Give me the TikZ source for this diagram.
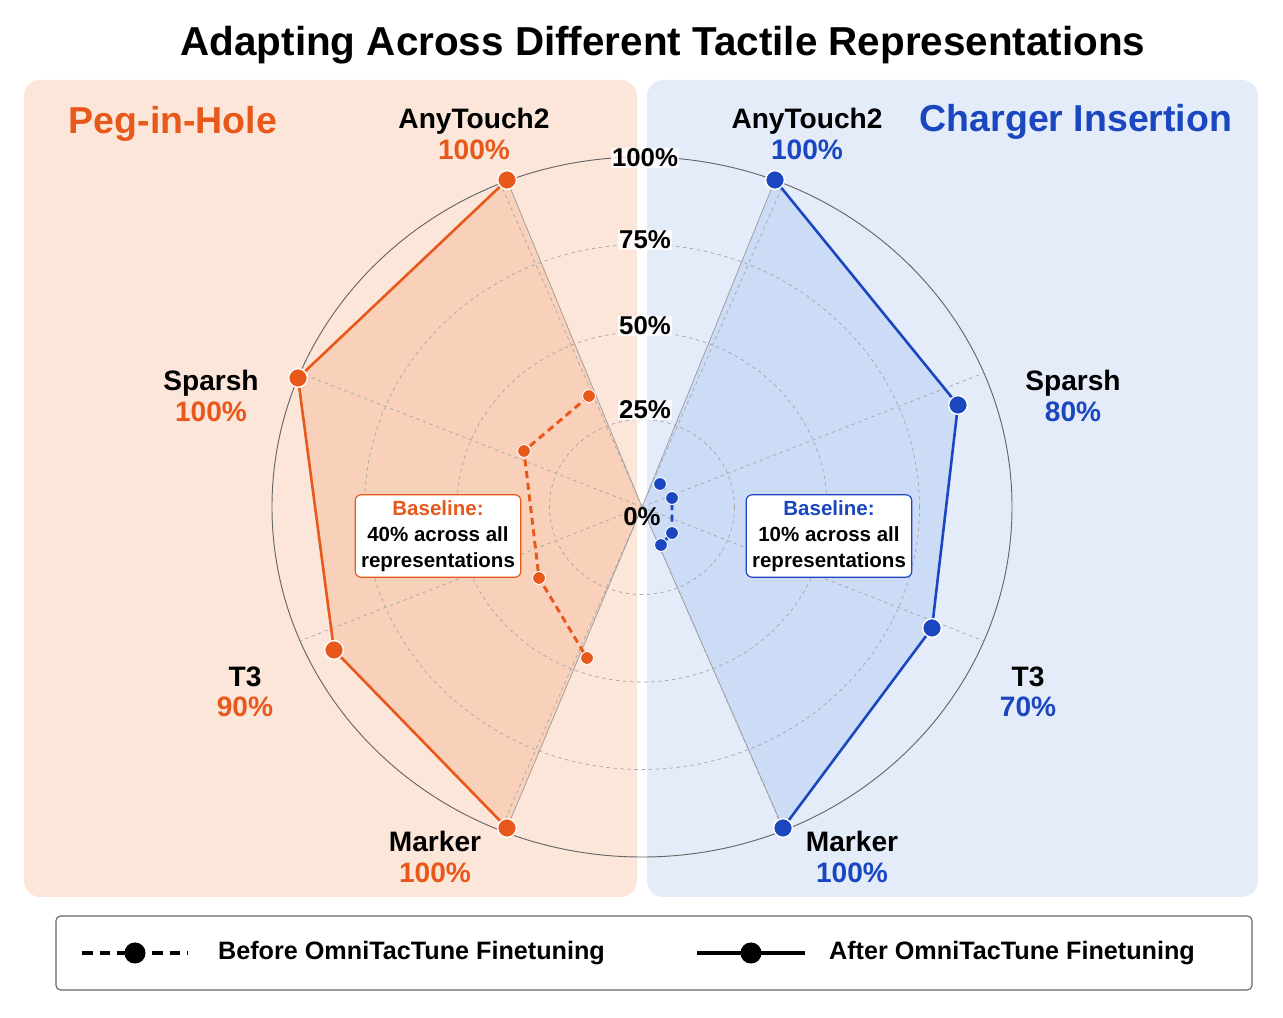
\documentclass[tikz,border=0pt]{standalone}
\usepackage{fontspec}
\setmainfont{Liberation Sans}
\definecolor{pegc}{HTML}{E8581A}
\definecolor{chgc}{HTML}{1A47C0}
\definecolor{pegbg}{HTML}{FCE5D9}
\definecolor{chgbg}{HTML}{E4ECFA}
\definecolor{pegfill}{HTML}{F8C4A6}
\definecolor{chgfill}{HTML}{BCD1F4}
\tikzset{
  panel/.style={rounded corners=14pt},
  ring/.style={draw=gray!70,dashed,line width=0.6pt},
  spoke/.style={draw=gray!70,dashed,line width=0.6pt},
  pct/.style={font=\fontsize{22}{24}\selectfont\bfseries,fill=white,fill opacity=0.8,text opacity=1,inner sep=1pt},
  axlab/.style={font=\fontsize{24}{28}\selectfont\bfseries,align=center,inner sep=0pt},
  dot/.style={circle,fill=#1,draw=white,line width=1.2pt,inner sep=0pt,minimum size=16pt},
  sdot/.style={circle,fill=#1,draw=white,line width=0.8pt,inner sep=0pt,minimum size=11pt},
  basebox/.style={draw=#1,fill=white,rounded corners=5pt,line width=1pt,align=center,
    font=\fontsize{17.5}{22}\selectfont\bfseries,inner sep=5pt}
}
\begin{document}
\begin{tikzpicture}[x=0.03cm,y=0.03cm]
\useasboundingbox[fill=white] (0,0) rectangle (1283,1018);
% panels
\fill[pegbg,panel] (24,121) rectangle (637,938);
\fill[chgbg,panel] (647,121) rectangle (1258,938);
\node[font=\fontsize{34.5}{40}\selectfont\bfseries] (title) at (663,973) {Adapting Across Different Tactile Representations};
\node[font=\fontsize{32}{36}\selectfont\bfseries,text=pegc] (peg) at (173,894) {Peg-in-Hole};
\node[font=\fontsize{32}{36}\selectfont\bfseries,text=chgc] (chg) at (1076,896) {Charger Insertion};

\coordinate (C) at (642,511);
% data points
\foreach \n/\x/\y in {pa/507/838, ps/298/640, pt/334/368, pm/507/190,
  qa/589/622, qs/524/567, qt/539/440, qm/587/360,
  ca/775/838, cs/958/613, ct/932/390, cm/783/190,
  da/660/534, ds/672/520, dt/672/485, dm/661/473}
  \coordinate (\n) at (\x,\y);

% fills
\fill[pegfill,opacity=0.6] (C) -- (pa) -- (ps) -- (pt) -- (pm) -- cycle;
\fill[chgfill,opacity=0.6] (C) -- (ca) -- (cs) -- (ct) -- (cm) -- cycle;
\draw[gray!80,line width=0.6pt] (pa) -- (C) -- (pm) (ca) -- (C) -- (cm);

% grid
\draw[gray!80!black,line width=0.8pt] (C) ellipse [x radius=11.1cm,y radius=10.5cm];
\foreach \r in {0.25,0.5,0.75}
  \draw[ring] (C) ellipse [x radius={\r*11.1cm},y radius={\r*10.5cm}];
\foreach \a in {22.5,67.5,...,337.5}
  \draw[spoke] (C) -- ++(\a:{11.1cm} and {10.5cm});

% series
\draw[pegc,line width=2.2pt] (pa) -- (ps) -- (pt) -- (pm);
\draw[chgc,line width=2.2pt] (ca) -- (cs) -- (ct) -- (cm);
\draw[pegc,line width=2.5pt,dash pattern=on 6pt off 4pt] (qa) -- (qs) -- (qt) -- (qm);
\draw[chgc,line width=2.5pt,dash pattern=on 6pt off 4pt] (da) -- (ds) -- (dt) -- (dm);
\foreach \n in {pa,ps,pt,pm} \node[dot=pegc] (n\n) at (\n) {};
\foreach \n in {ca,cs,ct,cm} \node[dot=chgc] (n\n) at (\n) {};
\foreach \n in {qa,qs,qt,qm} \node[sdot=pegc] (n\n) at (\n) {};
\foreach \n in {da,ds,dt,dm} \node[sdot=chgc] (n\n) at (\n) {};

% ring labels
\node[pct] (r100) at (645,860) {100\%};
\node[pct] (r75) at (645,778) {75\%};
\node[pct] (r50) at (645,692) {50\%};
\node[pct] (r25) at (645,608) {25\%};
\node[pct,fill opacity=0] (r0) at (642,501) {0\%};

% axis labels
\node[axlab] (la) at (474,884) {AnyTouch2\\[-2pt]\textcolor{pegc}{100\%}};
\node[axlab] (ls) at (211,622) {Sparsh\\[-2pt]\textcolor{pegc}{100\%}};
\node[axlab] (lt) at (245,326) {T3\\[-2pt]\textcolor{pegc}{90\%}};
\node[axlab] (lm) at (435,161) {Marker\\[-2pt]\textcolor{pegc}{100\%}};
\node[axlab] (ra) at (807,884) {AnyTouch2\\[-2pt]\textcolor{chgc}{100\%}};
\node[axlab] (rs) at (1073,622) {Sparsh\\[-2pt]\textcolor{chgc}{80\%}};
\node[axlab] (rt) at (1028,326) {T3\\[-2pt]\textcolor{chgc}{70\%}};
\node[axlab] (rm) at (852,161) {Marker\\[-2pt]\textcolor{chgc}{100\%}};

% baselines
\node[basebox=pegc] (bl) at (438,482) {\textcolor{pegc}{Baseline:}\\40\% across all\\representations};
\node[basebox=chgc] (br) at (829,482) {\textcolor{chgc}{Baseline:}\\10\% across all\\representations};

% legend
\draw[gray!80!black,line width=1pt,rounded corners=4pt] (56,28) rectangle (1252,102);
\coordinate (b1) at (82,65); \coordinate (b2) at (188,65);
\coordinate (a1) at (697,65); \coordinate (a2) at (805,65);
\draw[black,line width=3.5pt,dash pattern=on 9pt off 6pt] (b1) -- (b2);
\node[circle,fill=black,inner sep=0pt,minimum size=18pt] (bd) at (135,65) {};
\draw[black,line width=3.5pt] (a1) -- (a2);
\node[circle,fill=black,inner sep=0pt,minimum size=18pt] (ad) at (751,65) {};
\node[anchor=west,font=\fontsize{21.5}{24}\selectfont\bfseries] (lb) at (214,65) {Before OmniTacTune Finetuning};
\node[anchor=west,font=\fontsize{21.5}{24}\selectfont\bfseries] (la2) at (825,65) {After OmniTacTune Finetuning};
\end{tikzpicture}
\end{document}
